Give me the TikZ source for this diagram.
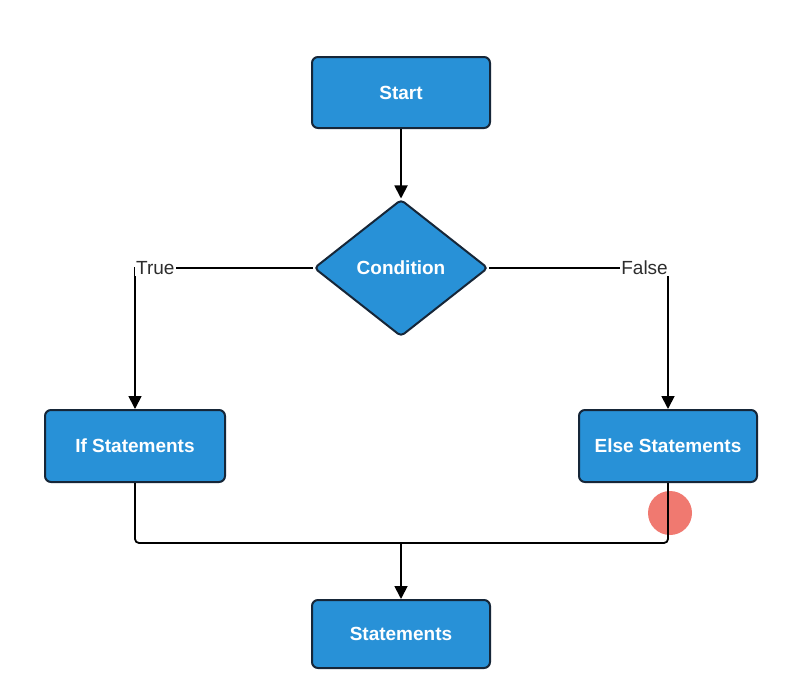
\documentclass[tikz,border=0pt]{standalone}
\usepackage{fontspec}
\setmainfont{Liberation Sans}
\usetikzlibrary{shapes.geometric,arrows.meta}
\definecolor{boxfill}{RGB}{40,145,215}
\definecolor{boxline}{RGB}{22,38,56}
\definecolor{labgray}{RGB}{45,45,45}
\definecolor{cursorred}{RGB}{238,98,88}
\tikzset{
  box/.style={draw=boxline, line width=2pt, fill=boxfill, rounded corners=6pt,
    text=white, font=\fontsize{19}{21}\selectfont\bfseries, inner sep=0pt},
  decision/.style={diamond, draw=boxline, line width=2pt, fill=boxfill, rounded corners=4pt,
    text=white, font=\fontsize{19}{21}\selectfont\bfseries, inner sep=0pt,
    minimum width=174pt, minimum height=137pt},
  conn/.style={draw=black, line width=1.8pt},
  arrow/.style={conn, -{Triangle[length=13pt,width=13pt]}},
  lab/.style={fill=white, text=labgray, font=\fontsize{19}{21}\selectfont, inner sep=1pt}
}
\begin{document}
\begin{tikzpicture}[x=1pt,y=1pt]
\useasboundingbox[fill=white] (0,0) rectangle (798,-678);
\node[box, minimum width=178pt, minimum height=71pt] (start) at (401,-92.5) {Start};
\node[decision] (cond) at (401,-268) {Condition};
\node[box, minimum width=180pt, minimum height=72pt] (ifs) at (135,-446) {If Statements};
\node[box, minimum width=178pt, minimum height=72pt] (els) at (668,-446) {Else Statements};
\node[box, minimum width=178pt, minimum height=68pt] (stm) at (401,-634) {Statements};
\coordinate (j) at (401,-543);
\draw[arrow] (start) -- (cond);
\draw[arrow] (cond.west) -| (ifs.north);
\draw[arrow] (cond.east) -| (els.north);
\node[lab, anchor=west] (tl) at (135,-268) {True};
\node[lab, anchor=east] (fl) at (669,-268) {False};
\fill[cursorred, opacity=0.85] (670,-513) circle (22);
\draw[conn, rounded corners=4pt] (ifs.south) |- (j) -| (els.south);
\draw[arrow] (j) -- (stm.north);
\end{tikzpicture}
\end{document}
